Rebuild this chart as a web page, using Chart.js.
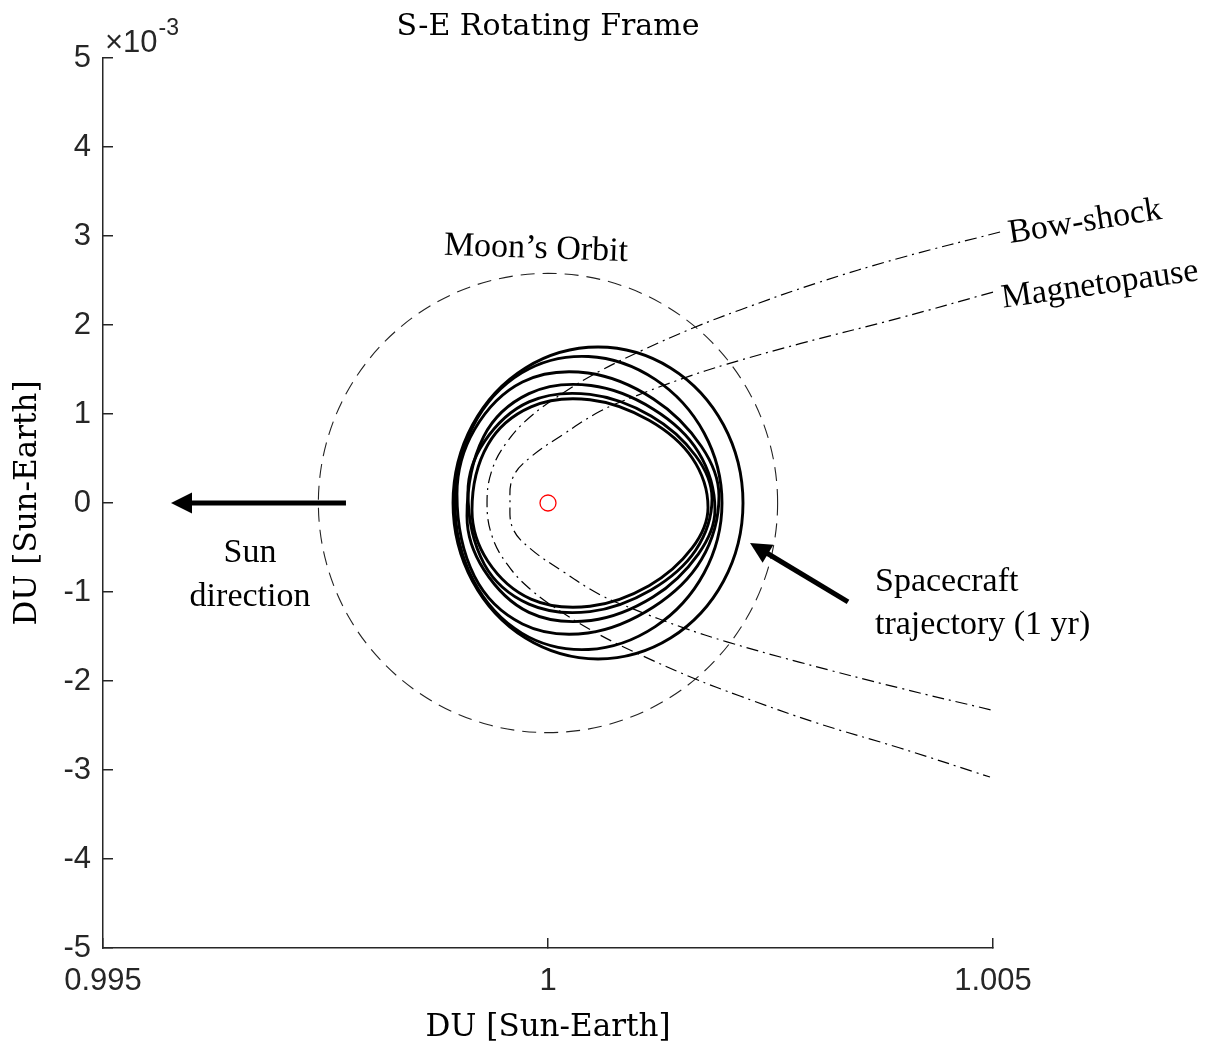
<!DOCTYPE html>
<html>
<head>
<meta charset="utf-8">
<title>S-E Rotating Frame</title>
<script src="https://cdn.jsdelivr.net/npm/chart.js@4.4.1/dist/chart.umd.min.js"></script>
<style>
  html, body { margin: 0; padding: 0; background: #fff; }
  #wrap { width: 1220px; height: 1047px; position: relative; }
</style>
</head>
<body>
<div id="wrap"><canvas id="chart"></canvas></div>
<script>
// x is in DU (Sun-Earth), y is in units of 1e-3 DU (the axis shows x10^-3)
const xTicks = [0.995, 1, 1.005];
const yTicks = [-5, -4, -3, -2, -1, 0, 1, 2, 3, 4, 5];

const earthX = [1];
const earthY = [0];

// Moon's orbit around the Earth (closed curve)
const moonX = [1.002580, 1.002492, 1.002234, 1.001824, 1.001290, 1.000668, 1.000000, 0.999332, 0.998710,
  0.998176, 0.997766, 0.997508, 0.997420, 0.997508, 0.997766, 0.998176, 0.998710, 0.999332, 1.000000,
  1.000668, 1.001290, 1.001824, 1.002234, 1.002492];
const moonY = [0, 0.668, 1.290, 1.824, 2.234, 2.492, 2.580, 2.492, 2.234, 1.824, 1.290, 0.668, 0,
  -0.668, -1.290, -1.824, -2.234, -2.492, -2.580, -2.492, -2.234, -1.824, -1.290, -0.668];

// bow-shock, from the upper end round the nose to the lower end
const bowX = [1.005079, 1.003955, 1.003022, 1.002157, 1.001629, 1.001067, 1.000584, 1.000169, 0.999798,
  0.999539, 0.999371, 0.999315, 0.999371, 0.999539, 0.999798, 1.000169, 1.000584, 1.001067, 1.001629,
  1.002157, 1.003022, 1.003955, 1.004966];
const bowY = [3.045, 2.753, 2.472, 2.169, 1.966, 1.719, 1.483, 1.236, 0.966, 0.685, 0.371, 0,
  -0.371, -0.685, -0.966, -1.236, -1.483, -1.719, -1.966, -2.169, -2.472, -2.753, -3.079];

// magnetopause
const magX = [1.005000, 1.003955, 1.002831, 1.002011, 1.001517, 1.000955, 1.000584, 1.000169, 0.999798,
  0.999607, 0.999573, 0.999607, 0.999798, 1.000169, 1.000584, 1.000955, 1.001517, 1.002011, 1.002831,
  1.003955, 1.005000];
const magY = [2.37, 2.08, 1.79, 1.56, 1.40, 1.19, 1.03, 0.77, 0.51, 0.29, 0,
  -0.29, -0.51, -0.77, -1.03, -1.19, -1.40, -1.56, -1.79, -2.08, -2.33];

// spacecraft trajectory over 1 yr: six closed loops
const loopX = [
  [1.002191, 1.001973, 1.001377, 1.000562, 0.999747, 0.999151, 0.998933, 0.999151, 0.999747, 1.000562, 1.001377, 1.001973],
  [1.001955, 1.001754, 1.001205, 1.000455, 0.999705, 0.999156, 0.998955, 0.999156, 0.999705, 1.000455, 1.001205, 1.001754],
  [1.001921, 1.001724, 1.001185, 1.000449, 0.999713, 0.999174, 0.998977, 0.999174, 0.999713, 1.000449, 1.001185, 1.001724],
  [1.001876, 1.001689, 1.001180, 1.000483, 0.999786, 0.999277, 0.999090, 0.999277, 0.999786, 1.000483, 1.001180, 1.001689],
  [1.001843, 1.001659, 1.001158, 1.000472, 0.999786, 0.999285, 0.999101, 0.999285, 0.999786, 1.000472, 1.001158, 1.001659],
  [1.001798, 1.001620, 1.001135, 1.000472, 0.999809, 0.999324, 0.999146, 0.999324, 0.999809, 1.000472, 1.001135, 1.001620]
];
const loopY = [
  [0, 0.877, 1.518, 1.753, 1.518, 0.877, 0, -0.877, -1.518, -1.753, -1.518, -0.877],
  [0, 0.787, 1.389, 1.646, 1.462, 0.859, 0, -0.859, -1.462, -1.646, -1.389, -0.787],
  [0.08, 0.635, 1.169, 1.460, 1.359, 0.825, 0.10, -0.825, -1.359, -1.460, -1.169, -0.635],
  [-0.08, 0.574, 1.057, 1.320, 1.229, 0.746, -0.15, -0.746, -1.229, -1.320, -1.057, -0.574],
  [0.05, 0.531, 0.977, 1.220, 1.136, 0.689, 0.12, -0.689, -1.136, -1.220, -0.977, -0.531],
  [-0.05, 0.505, 0.929, 1.160, 1.080, 0.655, -0.08, -0.655, -1.080, -1.160, -0.929, -0.505]
];

// text labels and arrows, placed in data coordinates
const notes = [
  { text: 'Moon\u2019s Orbit', x: 0.999865, y: 2.854, angle: 2, align: 'center' },
  { text: 'Bow-shock', x: 1.006034, y: 3.157, angle: -9, align: 'center' },
  { text: 'Magnetopause', x: 1.006202, y: 2.449, angle: -8, align: 'center' },
  { text: 'Sun', x: 0.996652, y: -0.562, angle: 0, align: 'center' },
  { text: 'direction', x: 0.996652, y: -1.056, angle: 0, align: 'center' },
  { text: 'Spacecraft', x: 1.003674, y: -0.888, angle: 0, align: 'left' },
  { text: 'trajectory (1 yr)', x: 1.003674, y: -1.371, angle: 0, align: 'left' }
];
const arrows = [
  { from: [0.997730, 0], to: [0.995764, 0] },
  { from: [1.003371, -1.112], to: [1.002270, -0.449] }
];

const AXIS = '#262626';

function toPoints(xs, ys) {
  return xs.map((x, i) => ({ x: x, y: ys[i] }));
}

// close the spline of curves flagged "closed" (same path logic radar charts use)
const closeLoops = {
  id: 'closeLoops',
  afterDatasetUpdate(chart, args) {
    const ds = chart.data.datasets[args.index];
    if (ds.closed && args.meta.dataset) {
      args.meta.dataset._loop = true;
      args.meta.dataset._fullLoop = true;
    }
  }
};

const annotate = {
  id: 'annotate',
  afterDatasetsDraw(chart) {
    const { ctx, chartArea } = chart;
    const sx = chart.scales.x, sy = chart.scales.y;
    ctx.save();

    // arrows
    arrows.forEach(a => {
      const x0 = sx.getPixelForValue(a.from[0]), y0 = sy.getPixelForValue(a.from[1]);
      const x1 = sx.getPixelForValue(a.to[0]), y1 = sy.getPixelForValue(a.to[1]);
      const ang = Math.atan2(y1 - y0, x1 - x0);
      const hl = 21, hw = 10.5;
      const bx = x1 - hl * Math.cos(ang), by = y1 - hl * Math.sin(ang);
      ctx.strokeStyle = '#000';
      ctx.lineWidth = 5;
      ctx.beginPath();
      ctx.moveTo(x0, y0);
      ctx.lineTo(bx + 2 * Math.cos(ang), by + 2 * Math.sin(ang));
      ctx.stroke();
      ctx.fillStyle = '#000';
      ctx.beginPath();
      ctx.moveTo(x1, y1);
      ctx.lineTo(bx - hw * Math.sin(ang), by + hw * Math.cos(ang));
      ctx.lineTo(bx + hw * Math.sin(ang), by - hw * Math.cos(ang));
      ctx.closePath();
      ctx.fill();
    });

    // text notes
    notes.forEach(n => {
      ctx.save();
      ctx.translate(sx.getPixelForValue(n.x), sy.getPixelForValue(n.y));
      ctx.rotate(n.angle * Math.PI / 180);
      ctx.font = '34px "Liberation Serif"';
      ctx.textAlign = n.align;
      ctx.textBaseline = 'middle';
      ctx.fillStyle = '#000';
      ctx.fillText(n.text, 0, 0);
      ctx.restore();
    });

    // axis multiplier x10^-3
    ctx.fillStyle = AXIS;
    ctx.textAlign = 'left';
    ctx.textBaseline = 'alphabetic';
    ctx.font = '31px "Liberation Sans"';
    const base = '\u00d710';
    ctx.fillText(base, chartArea.left + 2, chartArea.top - 6);
    const w = ctx.measureText(base).width;
    ctx.font = '23px "Liberation Sans"';
    ctx.fillText('-3', chartArea.left + 3 + w, chartArea.top - 23);

    ctx.restore();
  }
};

const tickFont = { family: 'Liberation Sans', size: 31 };
const labelFont = { family: 'DejaVu Serif', size: 31, weight: 'normal' };

const loopSets = loopX.map((xs, i) => ({
  label: 'Spacecraft trajectory ' + (i + 1),
  data: toPoints(xs, loopY[i]),
  closed: true,
  borderColor: '#000',
  borderWidth: 2.9,
  tension: 0.36,
  pointRadius: 0
}));

new Chart(document.getElementById('chart'), {
  type: 'line',
  data: {
    datasets: [
      {
        label: 'Earth',
        data: toPoints(earthX, earthY),
        showLine: false,
        pointRadius: 8,
        pointBorderColor: '#ff0000',
        pointBackgroundColor: 'rgba(0,0,0,0)',
        pointBorderWidth: 1.3
      },
      ...loopSets,
      {
        label: 'Moon orbit',
        data: toPoints(moonX, moonY),
        closed: true,
        borderColor: '#222',
        borderWidth: 1.1,
        borderDash: [14, 8],
        tension: 0.34,
        pointRadius: 0
      },
      {
        label: 'Bow-shock',
        data: toPoints(bowX, bowY),
        borderColor: '#000',
        borderWidth: 1.2,
        borderDash: [12, 5, 2, 5],
        tension: 0.4,
        pointRadius: 0,
        clip: false
      },
      {
        label: 'Magnetopause',
        data: toPoints(magX, magY),
        borderColor: '#000',
        borderWidth: 1.2,
        borderDash: [12, 5, 2, 5],
        tension: 0.4,
        pointRadius: 0,
        clip: false
      }
    ]
  },
  options: {
    responsive: true,
    maintainAspectRatio: false,
    devicePixelRatio: 1,
    animation: false,
    events: [],
    layout: { padding: { top: 0, right: 227, bottom: 0, left: 0 } },
    plugins: {
      legend: { display: false },
      tooltip: { enabled: false },
      title: {
        display: true,
        text: 'S-E Rotating Frame',
        fullSize: false,
        color: '#000',
        font: { family: 'DejaVu Serif', size: 30, weight: 'normal' },
        padding: { top: 9, bottom: 13 }
      }
    },
    scales: {
      x: {
        type: 'linear',
        min: 0.995,
        max: 1.005,
        afterBuildTicks: s => { s.ticks = xTicks.map(v => ({ value: v })); },
        afterFit: s => { s.height = 99; },
        ticks: {
          callback: v => String(v),
          font: tickFont,
          color: AXIS,
          padding: 25,
          maxRotation: 0,
          autoSkip: false
        },
        grid: { drawOnChartArea: false, drawTicks: true, tickLength: -10, color: AXIS, lineWidth: 1.5 },
        border: { display: true, color: AXIS, width: 1.5 },
        title: { display: true, text: 'DU [Sun-Earth]', color: '#000', font: labelFont, padding: { top: 0, bottom: 0 } }
      },
      y: {
        type: 'linear',
        min: -5,
        max: 5,
        afterBuildTicks: s => { s.ticks = yTicks.map(v => ({ value: v })); },
        afterFit: s => { s.width = 103; },
        ticks: {
          callback: v => String(v),
          font: tickFont,
          color: AXIS,
          padding: 22,
          autoSkip: false
        },
        grid: { drawOnChartArea: false, drawTicks: true, tickLength: -10, color: AXIS, lineWidth: 1.5 },
        border: { display: true, color: AXIS, width: 1.5 },
        title: { display: true, text: 'DU [Sun-Earth]', color: '#000', font: labelFont, padding: { top: 9, bottom: 0 } }
      }
    }
  },
  plugins: [closeLoops, annotate]
});
</script>
</body>
</html>
